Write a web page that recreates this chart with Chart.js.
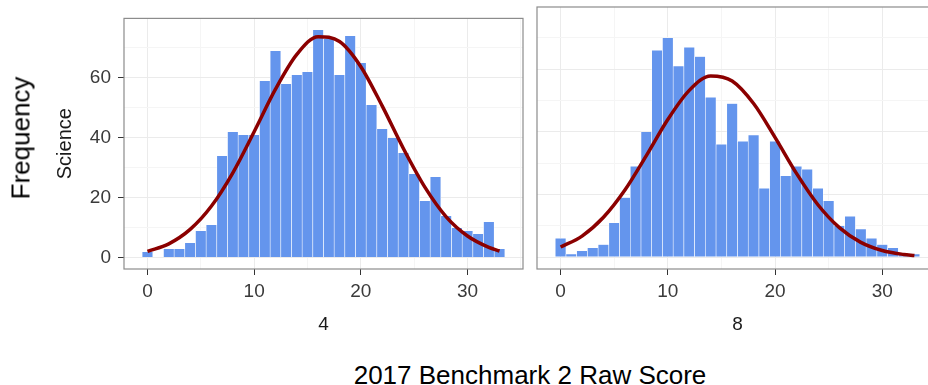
<!DOCTYPE html>
<html>
<head>
<meta charset="utf-8">
<script src="https://cdn.jsdelivr.net/npm/chart.js@4.4.1/dist/chart.umd.min.js"></script>
<style>
  body { margin: 0; width: 928px; height: 385px; overflow: hidden; background: #fff; position: relative;
         font-family: "Liberation Sans", Arial, sans-serif; }
  canvas { position: absolute; top: 0; }
  #chart4 { left: 0; }
  #chart8 { left: 520px; }
  .label { position: absolute; color: #000; white-space: nowrap; }
  #freq { left: 21px; top: 138px; font-size: 26px; transform: translate(-50%, -50%) rotate(-90deg); }
  #xtitle { left: 530px; top: 375px; font-size: 26px; transform: translate(-50%, -50%); }
</style>
</head>
<body>
<canvas id="chart4" width="530" height="345"></canvas>
<canvas id="chart8" width="430" height="345"></canvas>
<div class="label" id="freq">Frequency</div>
<div class="label" id="xtitle">2017 Benchmark 2 Raw Score</div>

<script>
// raw scores 0..33, one bar each
const scores = [0, 1, 2, 3, 4, 5, 6, 7, 8, 9, 10, 11, 12, 13, 14, 15, 16,
  17, 18, 19, 20, 21, 22, 23, 24, 25, 26, 27, 28, 29, 30, 31, 32, 33];

const grade4Counts = [2, 0, 3, 3, 5, 9, 11, 34, 42, 41, 41, 59, 69, 58, 61, 62, 76,
  73, 61, 74, 65, 51, 43, 40, 35, 28, 19, 27, 14, 10, 9, 8, 12, 3];

const grade8Counts = [6, 1, 2, 3, 4, 11, 19, 29, 40, 66, 70, 61, 67, 64, 51, 36, 49,
  37, 39, 22, 37, 26, 29, 28, 22, 18, 10, 13, 9, 6, 4, 3, 1, 1];

// normal curve overlay, read at these scores
const curveScores = [0, 2, 4, 6, 8, 10, 12, 14, 16, 18, 20, 22, 24, 26, 28, 30, 32, 33];
const grade4Curve = [2.1, 4.6, 9.4, 17.2, 28.3, 42, 56.2, 67.8, 73.7, 72.1, 63.7, 50.6,
  36.3, 23.5, 13.6, 7.2, 3.4, 2.2];
const grade8Curve = [3.2, 6.7, 12.7, 21.4, 32.4, 43.9, 53.2, 57.8, 56.2, 49, 38.2, 26.7,
  16.7, 9.4, 4.7, 2.1, 0.85, 0.5];

const yTicks = [0, 20, 40, 60];
const xTicks = [0, 10, 20, 30];

const FONT = '"Liberation Sans", Arial, sans-serif';

// grey box round each panel
const panelBorder = {
  id: "panelBorder",
  afterDraw(chart) {
    const { ctx, chartArea: a } = chart;
    ctx.save();
    ctx.strokeStyle = "#8c8c8c";
    ctx.lineWidth = 1.2;
    ctx.strokeRect(a.left, a.top, a.right - a.left, a.bottom - a.top);
    ctx.restore();
  },
};

function makePanel(id, counts, curve, strip, showY) {
  const ctx = document.getElementById(id).getContext("2d");
  return new Chart(ctx, {
    type: "bar",
    data: {
      datasets: [
        {
          type: "line",
          data: curveScores.map((x, i) => ({ x: x, y: curve[i] })),
          borderColor: "#8b0000",
          borderWidth: 3.5,
          pointRadius: 0,
          cubicInterpolationMode: "monotone",
          order: 0,
        },
        {
          data: scores.map((x, i) => ({ x: x, y: counts[i] })),
          backgroundColor: "#6495ed",
          borderColor: "#ffffff",
          borderWidth: 0.6,
          barPercentage: 1,
          categoryPercentage: 1,
          order: 1,
        },
      ],
    },
    options: {
      responsive: false,
      animation: false,
      events: [],
      layout: { padding: { top: 7, right: showY ? 7 : 12, left: 0, bottom: 0 } },
      plugins: { legend: { display: false }, tooltip: { enabled: false } },
      scales: {
        x: {
          type: "linear",
          min: -2.2,
          max: 35.2,
          offset: false,
          border: { display: false },
          grid: {
            offset: false,
            color: (c) => (xTicks.includes(c.tick.value) ? "#ebebeb" : "#f5f5f5"),
            tickColor: (c) => (xTicks.includes(c.tick.value) ? "#333333" : "transparent"),
            tickLength: 6,
          },
          ticks: {
            stepSize: 5,
            includeBounds: false,
            maxRotation: 0,
            padding: 5,
            color: "#3a3a3a",
            font: { family: FONT, size: 19 },
            callback: (v) => (xTicks.includes(v) ? v : ""),
          },
          title: {
            display: true,
            text: strip,
            color: "#1a1a1a",
            font: { family: FONT, size: 19 },
            padding: { top: 0, bottom: 9 },
          },
          afterFit: (s) => { s.height = 76; },
        },
        y: {
          min: -3.8,
          max: 79.8,
          border: { display: false },
          grid: {
            color: (c) => (yTicks.includes(c.tick.value) ? "#ebebeb" : "#f5f5f5"),
            tickColor: (c) => (showY && yTicks.includes(c.tick.value) ? "#333333" : "transparent"),
            tickLength: 6,
          },
          ticks: {
            display: showY,
            stepSize: 10,
            includeBounds: false,
            padding: 7,
            color: "#3a3a3a",
            font: { family: FONT, size: 19 },
            callback: (v) => (yTicks.includes(v) ? v : ""),
          },
          title: {
            display: showY,
            text: "Science",
            color: "#1a1a1a",
            font: { family: FONT, size: 20 },
            padding: { top: 53, bottom: 0 },
          },
          afterFit: (s) => { s.width = showY ? 124 : 17; },
        },
      },
    },
    plugins: [panelBorder],
  });
}

makePanel("chart4", grade4Counts, grade4Curve, "4", true);
makePanel("chart8", grade8Counts, grade8Curve, "8", false);
</script>
</body>
</html>
